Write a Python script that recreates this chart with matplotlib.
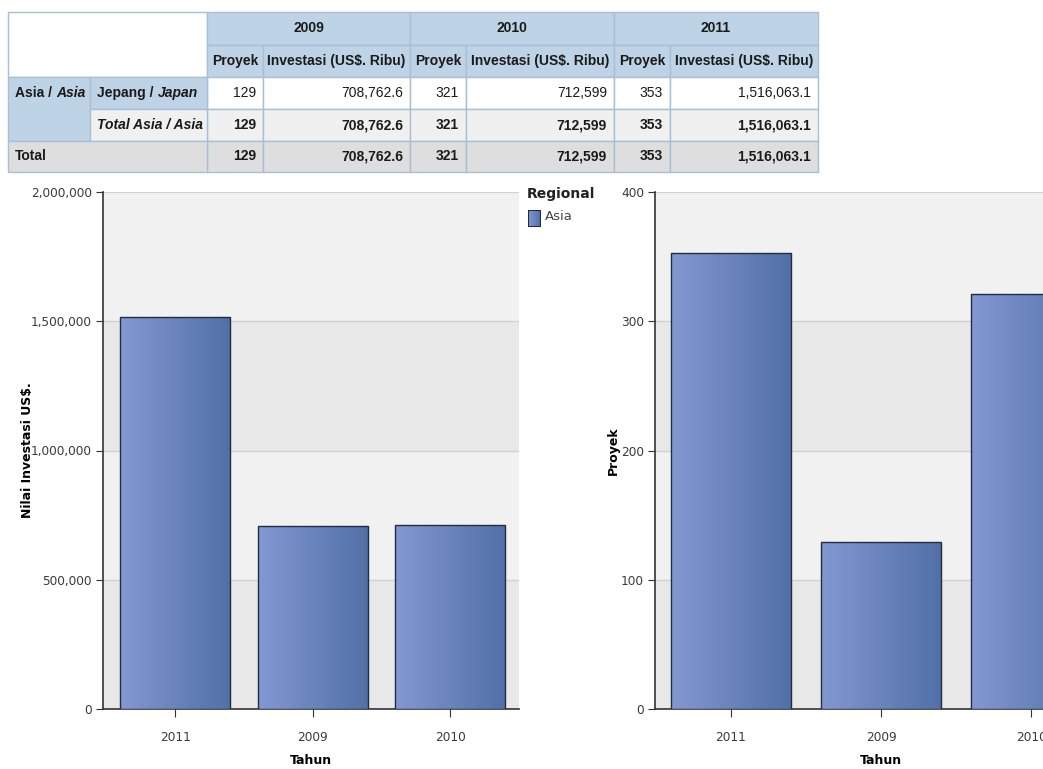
import matplotlib
matplotlib.use('Agg')
import numpy as np
import matplotlib.pyplot as plt
from matplotlib.patches import Rectangle, FancyBboxPatch
from matplotlib.colors import LinearSegmentedColormap
from matplotlib.ticker import FuncFormatter

# data
years = ['2009', '2010', '2011']
proyek = [129, 321, 353]
investasi = [708762.6, 712599, 1516063.1]
region = 'Asia'
country = 'Jepang'
chart_order = ['2011', '2009', '2010']

TABLE_FONT = ['Liberation Sans', 'DejaVu Sans']
plt.rcParams['font.family'] = ['DejaVu Sans']

def fmt(v):
    s = f'{v:,.1f}'
    return s[:-2] if s.endswith('.0') else s

W, H = 1043, 769
fig = plt.figure(figsize=(W / 100, H / 100), dpi=100)

# ---------- table (pixel grid) ----------
tax = fig.add_axes([0, 0, 1, 1])
tax.set_xlim(0, W)
tax.set_ylim(H, 0)
tax.axis('off')

cx = [8, 90, 207, 263, 410, 466, 614, 670, 818]
ry = [12, 45, 77, 109, 141, 172]
blue = '#bfd3e7'
edge = '#a8bfd6'
txt = '#1a1a1a'
FS = 10

def cell(c0, c1, r0, r1, color):
    tax.add_patch(Rectangle((cx[c0], ry[r0]), cx[c1] - cx[c0], ry[r1] - ry[r0],
                            facecolor=color, edgecolor=edge, lw=1))

def put(c0, c1, r, s, ha='center', bold=True, italic=False):
    if ha == 'center':
        x = (cx[c0] + cx[c1]) / 2
    elif ha == 'right':
        x = cx[c1] - 7
    else:
        x = cx[c0] + 7
    y = (ry[r] + ry[r + 1]) / 2
    return tax.text(x, y, s, ha=ha, va='center', color=txt, fontsize=FS,
                    family=TABLE_FONT, fontweight='bold' if bold else 'normal',
                    fontstyle='italic' if italic else 'normal')

def put_mixed(c0, r, plain, ital):
    t = put(c0, c0 + 1, r, plain, ha='left')
    tax.annotate(ital, xy=(1, 0.5), xycoords=t, xytext=(3, 0),
                 textcoords='offset points', va='center', ha='left',
                 color=txt, fontsize=FS, family=TABLE_FONT,
                 fontweight='bold', fontstyle='italic')

cell(0, 2, 0, 2, 'white')
for i, y in enumerate(years):
    c = 2 + 2 * i
    cell(c, c + 2, 0, 1, blue)
    put(c, c + 2, 0, y)
    cell(c, c + 1, 1, 2, blue)
    put(c, c + 1, 1, 'Proyek')
    cell(c + 1, c + 2, 1, 2, blue)
    put(c + 1, c + 2, 1, 'Investasi (US$. Ribu)')
    # country row
    cell(c, c + 1, 2, 3, 'white')
    put(c, c + 1, 2, str(proyek[i]), ha='right', bold=False)
    cell(c + 1, c + 2, 2, 3, 'white')
    put(c + 1, c + 2, 2, fmt(investasi[i]), ha='right', bold=False)
    # region total
    cell(c, c + 1, 3, 4, '#f0f0f0')
    put(c, c + 1, 3, str(proyek[i]), ha='right')
    cell(c + 1, c + 2, 3, 4, '#f0f0f0')
    put(c + 1, c + 2, 3, fmt(investasi[i]), ha='right')
    # grand total
    cell(c, c + 1, 4, 5, '#dedede')
    put(c, c + 1, 4, str(proyek[i]), ha='right')
    cell(c + 1, c + 2, 4, 5, '#dedede')
    put(c + 1, c + 2, 4, fmt(investasi[i]), ha='right')

cell(0, 1, 2, 4, blue)
put_mixed(0, 2, f'{region} /', region)
cell(1, 2, 2, 3, blue)
put_mixed(1, 2, f'{country} /', 'Japan')
cell(1, 2, 3, 4, '#f0f0f0')
put(1, 2, 3, f'Total {region} / {region}', ha='left', italic=True)
cell(0, 2, 4, 5, '#dedede')
put(0, 2, 4, 'Total', ha='left')

# ---------- bar charts ----------
cmap = LinearSegmentedColormap.from_list('bar', ['#8398d3', '#5270a8'])
grad = np.linspace(0, 1, 256).reshape(1, -1)

def bar_chart(rect, values, ymax, step, xlim, ylabel, formatter):
    ax = fig.add_axes(rect)
    ax.set_facecolor('none')
    ticks = np.arange(0, ymax + step, step)
    for k in range(len(ticks) - 1):
        ax.axhspan(ticks[k], ticks[k + 1], color='#e8e8e8' if k % 2 == 0 else '#f1f1f1',
                   lw=0, zorder=0)
    for t in ticks[1:]:
        ax.axhline(t, color='#d2d2d2', lw=1, zorder=1)
    x = np.arange(len(values))
    bars = ax.bar(x, values, width=0.8, facecolor='none', edgecolor='#222b40',
                  lw=1, zorder=4)
    for b in bars:
        bx, by = b.get_x(), b.get_y()
        im = ax.imshow(grad, cmap=cmap, aspect='auto', zorder=3,
                       extent=[bx, bx + b.get_width(), by, by + b.get_height()])
        im.set_clip_path(b)
    ax.set_xlim(*xlim)
    ax.set_ylim(0, ymax)
    ax.set_yticks(ticks)
    ax.yaxis.set_major_formatter(FuncFormatter(formatter))
    ax.set_xticks(x)
    ax.set_xticklabels(chart_order)
    for s in ['top', 'right']:
        ax.spines[s].set_visible(False)
    for s in ['left', 'bottom']:
        ax.spines[s].set_color('#333333')
        ax.spines[s].set_linewidth(1.2)
    ax.tick_params(axis='y', length=5, color='#333333', labelcolor='#3a3a3a',
                   labelsize=8.7, pad=3)
    ax.tick_params(axis='x', length=6, color='#333333', labelcolor='#3a3a3a',
                   labelsize=8.7, pad=10)
    ax.set_xlabel('Tahun', fontsize=9, fontweight='bold')
    ax.set_ylabel(ylabel, fontsize=9, fontweight='bold')
    return ax

inv_map = dict(zip(years, investasi))
pro_map = dict(zip(years, proyek))

ax1 = bar_chart([103 / W, 1 - 709 / H, 416 / W, 517 / H],
                [inv_map[y] for y in chart_order], 2000000, 500000, (-0.524, 2.5),
                'Nilai Investasi US$.', lambda v, p: f'{v:,.0f}')
ax1.yaxis.set_label_coords(-0.166, 0.5)
ax1.xaxis.set_label_coords(0.5, -0.088)

ax2 = bar_chart([655 / W, 1 - 709 / H, 451 / W, 517 / H],
                [pro_map[y] for y in chart_order], 400, 100, (-0.507, 2.5),
                'Proyek', lambda v, p: f'{v:.0f}')
ax2.yaxis.set_label_coords(-0.078, 0.5)
ax2.xaxis.set_label_coords((881 - 655) / 451, -0.088)

# legend
fig.text(527 / W, 1 - 194 / H, 'Regional', fontsize=10, fontweight='bold',
         color='#222222', ha='left', va='center')
lx = fig.add_axes([528 / W, 1 - 227 / H, 13 / W, 17 / H])
lx.imshow(grad, cmap=cmap, aspect='auto', extent=[0, 1, 0, 1])
lx.add_patch(Rectangle((0, 0), 1, 1, facecolor='none', edgecolor='#222b40', lw=1.5))
lx.set_xlim(0, 1)
lx.set_ylim(0, 1)
lx.axis('off')
fig.text(545 / W, 1 - 216 / H, region, fontsize=9.5, color='#444444',
         ha='left', va='center')

fig.savefig('out.png', dpi=100)
